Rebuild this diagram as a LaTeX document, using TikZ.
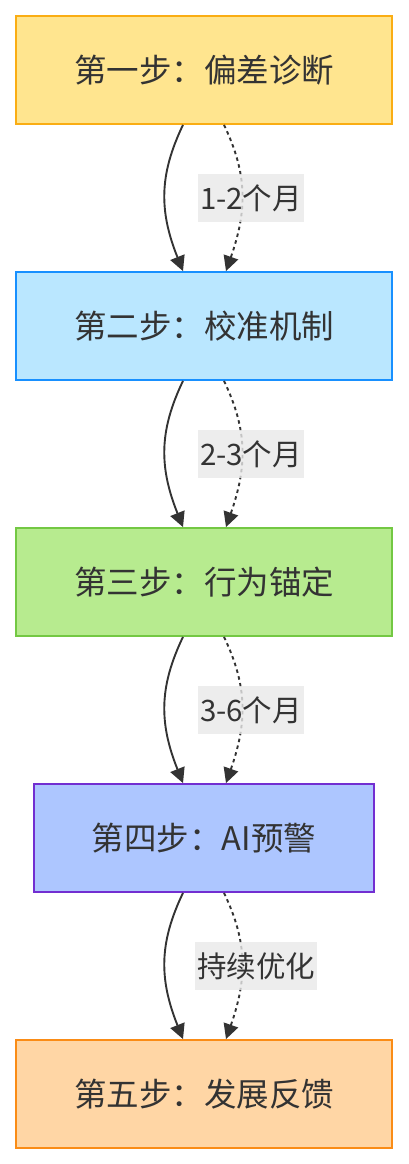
\documentclass[tikz,border=0pt]{standalone}
\usepackage{fontspec}
\setmainfont{Noto Sans CJK SC}
\usetikzlibrary{arrows.meta}
\definecolor{txt}{HTML}{333333}
\definecolor{f1}{HTML}{FFE58F}\definecolor{d1}{HTML}{FAAD14}
\definecolor{f2}{HTML}{BAE7FF}\definecolor{d2}{HTML}{1890FF}
\definecolor{f3}{HTML}{B7EB8F}\definecolor{d3}{HTML}{73C843}
\definecolor{f4}{HTML}{ADC6FF}\definecolor{d4}{HTML}{722ED1}
\definecolor{f5}{HTML}{FFD6A5}\definecolor{d5}{HTML}{FA8C16}
\definecolor{lbl}{HTML}{E8E8E8}
\tikzset{
  stepbox/.style={draw, line width=1.8pt, minimum width=376pt, minimum height=108pt, inner sep=0pt, text=txt, font=\fontsize{32.5}{38}\selectfont},
  solidedge/.style={draw=txt, line width=1.9pt, -{Triangle[length=15pt,width=15pt]}},
  dotedge/.style={draw=txt, line width=1.9pt, dash pattern=on 3.5pt off 3.5pt, -{Triangle[length=15pt,width=15pt]}},
  elabel/.style={fill=lbl, fill opacity=0.8, text opacity=1, text=txt, inner xsep=2pt, inner ysep=0pt, minimum height=48pt, font=\fontsize{29.5}{34}\selectfont}
}
\begin{document}
\begin{tikzpicture}[x=1pt,y=-1pt]
\useasboundingbox (0,0) rectangle (408,1164);
\node[stepbox, fill=f1, draw=d1] (b1) at (204,70) {第一步：偏差诊断};
\node[stepbox, fill=f2, draw=d2] (b2) at (204,326) {第二步：校准机制};
\node[stepbox, fill=f3, draw=d3] (b3) at (204,582) {第三步：行为锚定};
\node[stepbox, fill=f4, draw=d4, minimum width=340pt] (b4) at (204,838) {第四步：AI预警};
\node[stepbox, fill=f5, draw=d5] (b5) at (204,1094) {第五步：发展反馈};
\foreach \a/\b in {b1/b2,b2/b3,b3/b4,b4/b5}{
  \draw[solidedge] ([xshift=-21pt]\a.south) .. controls ++(-24,50) and ++(-24,-60) .. ([xshift=-21pt]\b.north);
  \draw[dotedge] ([xshift=20pt]\a.south) .. controls ++(24,50) and ++(21,-60) .. ([xshift=22pt]\b.north);
}
\node[elabel] (l1) at (251,198) {1-2个月};
\node[elabel] (l2) at (251,454) {2-3个月};
\node[elabel] (l3) at (251,710) {3-6个月};
\node[elabel] (l4) at (256,966) {持续优化};
\end{tikzpicture}
\end{document}
